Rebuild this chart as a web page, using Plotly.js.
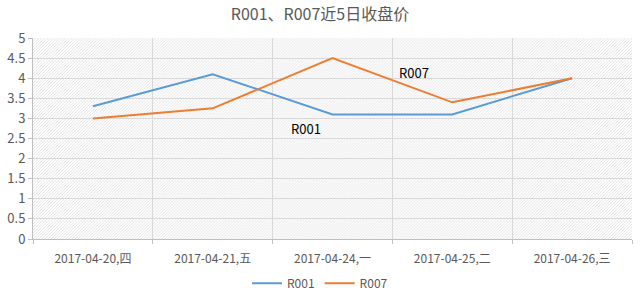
<!DOCTYPE html>
<html><head><meta charset="utf-8">
<script src="https://cdn.plot.ly/plotly-3.0.1.min.js"></script>
<style>html,body{margin:0;padding:0;background:#fff}#chart{width:640px;height:295px}</style>
</head><body><div id="chart"></div>
<script>
const categories = ["2017-04-20,四","2017-04-21,五","2017-04-24,一","2017-04-25,二","2017-04-26,三"];
const r001 = [3.3, 4.1, 3.1, 3.1, 4.0];
const r007 = [3.0, 3.25, 4.5, 3.4, 4.0];
const yTicks = [0,0.5,1,1.5,2,2.5,3,3.5,4,4.5,5];
const yTickText = ["0","0.5","1","1.5","2","2.5","3","3.5","4","4.5","5"];

const hatch = 'data:image/svg+xml;utf8,' + encodeURIComponent(
 '<svg xmlns="http://www.w3.org/2000/svg" width="600" height="201"><defs><pattern id="p" width="3" height="3" patternUnits="userSpaceOnUse"><path d="M-1,1 l2,-2 M0,3 l3,-3 M2,4 l2,-2" stroke="#e0e0e0" stroke-width="0.7"/></pattern></defs><rect width="600" height="201" fill="#fcfcfc"/><rect width="600" height="201" fill="url(#p)"/></svg>');

const font = {family: "'Noto Sans CJK SC', 'Liberation Sans', sans-serif", color: "#595959", size: 12};
const traces = [
 {x: categories, y: r001, type: "scatter", mode: "lines", name: "R001", line: {color: "#5b9bd5", width: 2}},
 {x: categories, y: r007, type: "scatter", mode: "lines", name: "R007", line: {color: "#ed7d31", width: 2}}
];
const layout = {
 width: 640, height: 295,
 margin: {l: 33, r: 8, t: 38, b: 56, autoexpand: false},
 paper_bgcolor: "#fff", plot_bgcolor: "rgba(0,0,0,0)",
 font: font,
 title: {text: "R001、R007近5日收盘价", x: 0.5, xanchor: "center", y: 0.95, yanchor: "middle", font: {family: "'Noto Sans CJK SC', sans-serif", size: 16, color: "#595959"}},
 xaxis: {type: "category", range: [-0.5, 4.5], tickson: "boundaries", ticks: "outside", ticklen: 4, tickcolor: "#bfbfbf",
   ticklabelstandoff: 9,
   showgrid: true, gridcolor: "#d9d9d9", showline: true, linecolor: "#bfbfbf", zeroline: false, fixedrange: true,
   tickfont: {size: 12, color: "#595959"}},
 yaxis: {range: [0, 5], tickvals: yTicks, ticktext: yTickText, ticks: "outside", ticklen: 4, tickcolor: "#bfbfbf",
   showgrid: true, gridcolor: "#d9d9d9", showline: true, linecolor: "#bfbfbf", zeroline: false, fixedrange: true,
   tickfont: {size: 13, color: "#595959"}},
 legend: {orientation: "h", x: 0.5, xanchor: "center", xref: "container", y: 0.04, yref: "container", yanchor: "middle", font: {size: 12, color: "#595959"}, itemwidth: 30, tracegroupgap: 0},
 images: [{source: hatch, xref: "paper", yref: "paper", x: 0, y: 1, sizex: 1, sizey: 1, xanchor: "left", yanchor: "top", sizing: "stretch", layer: "below"}],
 annotations: [
  {x: 2.68, y: 4.13, xref: "x", yref: "y", text: "R007", showarrow: false, font: {size: 13, color: "#000"}},
  {x: 1.78, y: 2.74, xref: "x", yref: "y", text: "R001", showarrow: false, font: {size: 13, color: "#000"}}
 ],
 showlegend: true
};
Plotly.newPlot("chart", traces, layout, {displayModeBar: false, staticPlot: true});
</script></body></html>
